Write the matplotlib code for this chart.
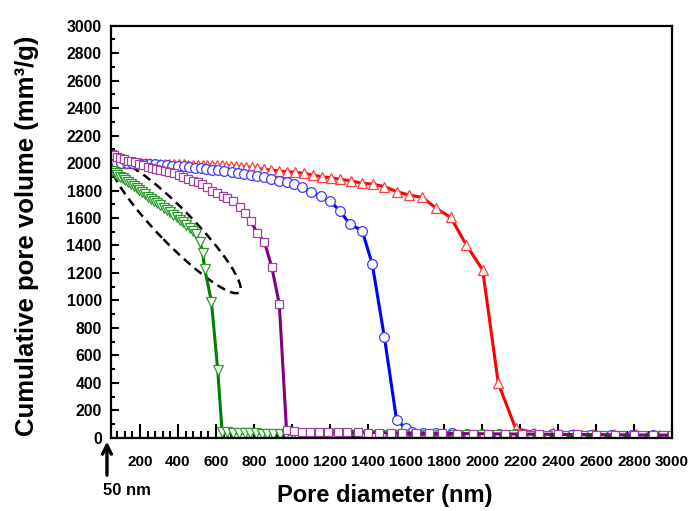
import matplotlib
matplotlib.use("Agg")
import matplotlib.pyplot as plt
from matplotlib.patches import Ellipse
from matplotlib.ticker import MultipleLocator
from matplotlib.transforms import ScaledTranslation

plt.rcParams.update({
    "font.family": "Liberation Sans",
    "font.weight": "bold",
    "axes.linewidth": 1.6,
})

# Mercury intrusion curves: pore diameter (nm) vs cumulative pore volume (mm3/g)
green_x = [55, 68, 81, 95, 109, 123, 137, 152, 167, 182, 197, 212, 228, 244,
           260, 276, 292, 308, 325, 342, 359, 376, 393, 410, 427, 444, 461,
           478, 495, 515, 530, 541, 576, 609, 632,
           660, 690, 720, 750, 780, 810, 840, 870, 900, 935, 970, 1005, 1040,
           1080, 1120, 1160, 1200, 1245, 1290, 1335, 1380, 1430, 1480, 1530,
           1590, 1650, 1710, 1780, 1850, 1920, 2000, 2080, 2160, 2250, 2340,
           2430, 2530, 2630, 2730, 2840, 2950]
green_y = [1940, 1927, 1915, 1901, 1888, 1874, 1860, 1846, 1831, 1817, 1802,
           1787, 1771, 1755, 1740, 1724, 1707, 1691, 1674, 1657, 1640, 1622,
           1605, 1587, 1569, 1550, 1530, 1508, 1480, 1428, 1348, 1227, 991,
           494, 46,
           40, 38, 36, 35, 34, 33, 32, 31, 30, 30, 29, 28, 28, 27, 27, 26, 26,
           25, 25, 24, 24, 23, 23, 22, 22, 21, 21, 20, 20, 19, 19, 18, 18, 17,
           17, 16, 16, 15, 15, 14, 14]

purple_x = [55, 65, 80, 97, 115, 135, 155, 175, 196, 218, 240, 262, 285, 308,
            331, 355, 379, 403, 428, 453, 478, 503, 528, 554, 580, 606, 635,
            660, 692, 728, 750, 782, 817, 854, 893, 933, 971,
            1010, 1050, 1095, 1140, 1190, 1240, 1290, 1345, 1400, 1460, 1520,
            1580, 1650, 1720, 1790, 1870, 1950, 2030, 2120, 2210, 2300, 2400,
            2500, 2600, 2700, 2800, 2900, 3000]
purple_y = [2065, 2058, 2046, 2034, 2026, 2018, 2012, 2004, 1996, 1985, 1973,
            1965, 1957, 1949, 1941, 1933, 1925, 1913, 1900, 1886, 1872, 1860,
            1845, 1825, 1800, 1780, 1760, 1742, 1726, 1682, 1639, 1578, 1493,
            1428, 1246, 975, 58,
            48, 46, 45, 44, 43, 42, 41, 40, 39, 38, 37, 36, 35, 34, 33, 32, 31,
            30, 29, 28, 27, 26, 25, 24, 23, 22, 21, 20]

blue_x = [55, 75, 100, 130, 160, 190, 220, 250, 280, 310, 340, 370, 400, 430,
          460, 490, 520, 550, 580, 610, 640, 685, 715, 746, 782, 817, 852, 891,
          931, 971, 1013, 1053, 1101, 1150, 1199, 1251, 1304, 1369, 1422, 1486,
          1550, 1597,
          1630, 1690, 1760, 1840, 1920, 2000, 2090, 2180, 2270, 2370, 2470,
          2570, 2680, 2790, 2900]
blue_y = [2010, 2006, 2003, 2001, 1999, 1997, 1995, 1993, 1990, 1987, 1984,
          1981, 1978, 1975, 1971, 1967, 1962, 1957, 1952, 1947, 1942, 1933,
          1928, 1922, 1914, 1905, 1896, 1882, 1871, 1860, 1847, 1823, 1792,
          1760, 1724, 1653, 1556, 1508, 1265, 732, 131, 73,
          45, 38, 35, 33, 31, 29, 28, 27, 26, 25, 24, 23, 22, 21, 20]

red_x = [55, 80, 105, 130, 155, 180, 205, 230, 255, 280, 305, 330, 355, 380,
         405, 430, 455, 480, 505, 530, 555, 580, 605, 630, 655, 680, 705, 730,
         758, 787, 816, 855, 892, 934, 975, 1015, 1062, 1109, 1156, 1203, 1255,
         1311, 1367, 1425, 1486, 1551, 1615, 1685, 1759, 1834, 1917, 2003,
         2085, 2176,
         2272, 2372, 2477, 2582, 2693, 2809, 2930]
red_y = [2005, 2004, 2003, 2002, 2001, 2000, 1999, 1998, 1997, 1996, 1995,
         1994, 1993, 1992, 1991, 1990, 1989, 1988, 1987, 1986, 1985, 1984,
         1983, 1982, 1980, 1978, 1976, 1974, 1971, 1968, 1961, 1954, 1949,
         1942, 1937, 1932, 1925, 1913, 1900, 1893, 1881, 1871, 1852, 1847,
         1828, 1792, 1767, 1750, 1670, 1605, 1404, 1222, 398, 70,
         38, 34, 31, 29, 27, 25, 23]

series = [
    (red_x, red_y, "#ff0000", "#ff4040", "^"),
    (blue_x, blue_y, "#0000ff", "#3c3cff", "o"),
    (green_x, green_y, "#008000", "#2a9a2a", "v"),
    (purple_x, purple_y, "#800080", "#a040a0", "s"),
]

fig = plt.figure(figsize=(6.88, 5.11), dpi=100)
ax = fig.add_axes([0.162, 0.143, 0.815, 0.807])

for xs, ys, lc, mc, mk in series:
    ms = 5.8 if mk == "s" else 7
    ax.plot(xs, ys, color=lc, lw=2.2, marker=mk, ms=ms, mfc="white",
            mec=mc, mew=0.9)

ax.set_xlim(50, 3000)
ax.set_ylim(0, 3000)
ax.xaxis.set_major_locator(MultipleLocator(200))
ax.xaxis.set_minor_locator(MultipleLocator(40))
ax.yaxis.set_major_locator(MultipleLocator(200))
ax.yaxis.set_minor_locator(MultipleLocator(100))
ax.tick_params(axis="x", which="major", direction="in", length=10, width=1.5,
               pad=12, labelsize=11)
ax.tick_params(axis="x", which="minor", direction="in", length=5, width=1.5)
ax.tick_params(axis="y", which="major", direction="in", length=6, width=1.5,
               pad=7, labelsize=11.3)
ax.tick_params(axis="y", which="minor", direction="in", length=3, width=1.5)

ax.set_xlabel("Pore diameter (nm)", fontsize=17, fontweight="bold")
ax.set_ylabel("Cumulative pore volume (mm³/g)", fontsize=18.5,
              fontweight="bold")
ax.xaxis.set_label_coords(0.487, -0.112)
ax.yaxis.set_label_coords(-0.13, 0.49)

# dashed ring around the early green decline, sized in inches
ring_trans = fig.dpi_scale_trans + ScaledTranslation(389, 1535, ax.transData)
ring = Ellipse((0, 0), 1.82, 0.35, angle=-45.7, transform=ring_trans,
               fill=False, ec="black", lw=1.8, ls=(0, (3.5, 2.2)))
ax.add_patch(ring)

# marker for the 50 nm lower limit of the axis
ax.annotate("", xy=(-0.008, -0.002), xytext=(-0.008, -0.097),
            xycoords="axes fraction", textcoords="axes fraction",
            arrowprops=dict(arrowstyle="->", lw=2.4, color="black",
                            mutation_scale=16), annotation_clip=False)
ax.text(0.028, -0.128, "50 nm", transform=ax.transAxes, ha="center",
        va="center", fontsize=12, fontweight="bold")

fig.savefig("out.png", dpi=100)
